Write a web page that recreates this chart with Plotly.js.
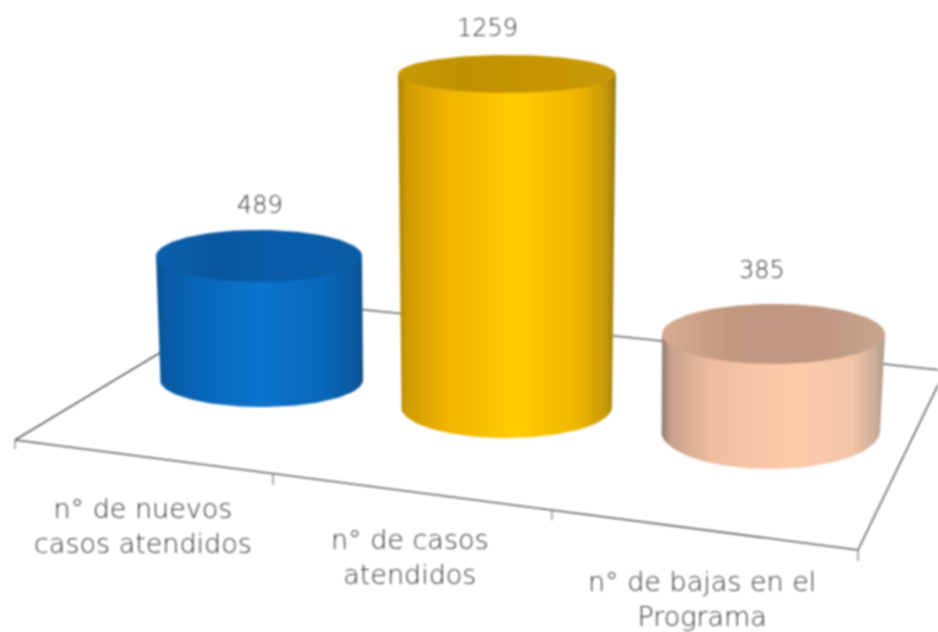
<!DOCTYPE html>
<html>
<head>
<meta charset="utf-8">
<script src="https://cdn.plot.ly/plotly-3.0.1.min.js"></script>
<style>html,body{margin:0;padding:0;background:#fff}#chart{width:938px;height:632px;filter:blur(0.8px)}</style>
</head>
<body>
<div id="chart"></div>
<script>
// --- data ---
const categories = ["n° de nuevos<br>casos atendidos", "n° de casos<br>atendidos", "n° de bajas en el<br>Programa"];
const values = [489, 1259, 385];

// --- scene geometry (oblique view of the floor, in page-sized axis units) ---
const baseX = [261.5, 506.5, 770.5];
const baseY = [380, 407, 431];
const baseA = [101.5, 105.5, 109.5];
const baseB = [27, 31, 38];
const topX = [259, 507, 773.5];
const topA = [103, 109, 111.5];
const topB = [26, 19, 30];
const catLabelX = [143, 410, 702];
const catLabelY = [526, 557, 599];
const valLabelX = [260, 487, 762];
const valLabelY = [205, 28, 270];
const k = 0.2467, persp = 5.74e-5;
const heightOf = v => k * v * (1 + persp * v);

// --- styles ---
const bodyStops = [
  [[0,"#0a5290"],[0.04,"#0a5aa2"],[0.2,"#0865b8"],[0.5,"#0a74cd"],[0.8,"#0868ba"],[0.95,"#0a5aa2"],[1,"#0b4e88"]],
  [[0,"#a88408"],[0.04,"#cf9c04"],[0.22,"#f0b400"],[0.55,"#ffcc00"],[0.82,"#efb600"],[0.95,"#c99a08"],[1,"#9a7c12"]],
  [[0,"#8f7a70"],[0.04,"#c8a28c"],[0.22,"#eebd9f"],[0.6,"#fdcbac"],[0.85,"#f3c4a8"],[0.96,"#cdac98"],[1,"#a8968a"]]
];
const capStops = [
  [[0,"#0b60ac"],[0.3,"#08569e"],[0.6,"#095ca8"],[1,"#0a5ca6"]],
  [[0,"#c99a06"],[0.3,"#c19200"],[0.7,"#c79600"],[1,"#c79a0c"]],
  [[0,"#d6ad92"],[0.3,"#c09880"],[0.7,"#c09780"],[1,"#c8a68e"]]
];
const floorColor = "#5c5c5c";

// --- traces ---
const traces = [];
function line(xs, ys, w) {
  traces.push({type:"scatter", mode:"lines", x:xs, y:ys, hoverinfo:"skip",
    line:{color:floorColor, width:w||1.5}});
}
// floor
line([15, 858], [440, 550]);
line([15, 251], [440, 298]);
line([251, 945], [298, 370.5]);
line([858, 945], [550, 370.5]);
// ticks
line([15, 15], [440, 449], 1);
line([273, 273], [474, 485], 1);
line([552, 552], [510, 520], 1);
line([858, 858], [550, 561], 1);

values.forEach((v, i) => {
  const topY = baseY[i] - heightOf(v);
  const bx = [], by = [], cx = [], cy = [];
  bx.push(topX[i] - topA[i]); by.push(topY);
  for (let d = 180; d >= 0; d -= 3) {
    const t = d * Math.PI / 180;
    bx.push(baseX[i] + baseA[i] * Math.cos(t));
    by.push(baseY[i] + baseB[i] * Math.sin(t));
  }
  bx.push(topX[i] + topA[i]); by.push(topY); bx.push(topX[i] - topA[i]); by.push(topY);
  for (let d = 0; d <= 360; d += 3) {
    const t = d * Math.PI / 180;
    cx.push(topX[i] + topA[i] * Math.cos(t));
    cy.push(topY + topB[i] * Math.sin(t));
  }
  const grad = s => ({type:"horizontal", colorscale:s});
  traces.push({type:"scatter", mode:"lines", x:bx, y:by, fill:"toself", hoverinfo:"skip",
    line:{width:0, color:"rgba(0,0,0,0)"}, fillgradient:grad(bodyStops[i])});
  traces.push({type:"scatter", mode:"lines", x:cx, y:cy, fill:"toself", hoverinfo:"skip",
    line:{width:0, color:"rgba(0,0,0,0)"}, fillgradient:grad(capStops[i])});
});

const txtFont = {family:"'DejaVu Sans', sans-serif", size:27, color:"#303030", weight:200};
const annotations = [];
categories.forEach((c, i) => annotations.push({x:catLabelX[i], y:catLabelY[i], xref:"x", yref:"y",
  text:c, showarrow:false, font:txtFont, align:"center", xanchor:"center", yanchor:"middle"}));
values.forEach((v, i) => annotations.push({x:valLabelX[i], y:valLabelY[i], xref:"x", yref:"y",
  text:String(v), showarrow:false, font:Object.assign({}, txtFont, {size:24}), xanchor:"center", yanchor:"middle"}));

Plotly.newPlot("chart", traces, {
  width:938, height:632, margin:{l:0,r:0,t:0,b:0}, showlegend:false,
  paper_bgcolor:"#fff", plot_bgcolor:"#fff",
  xaxis:{range:[0,938], visible:false, fixedrange:true},
  yaxis:{range:[632,0], visible:false, fixedrange:true},
  annotations:annotations
}, {displayModeBar:false, staticPlot:true});
</script>
</body>
</html>
